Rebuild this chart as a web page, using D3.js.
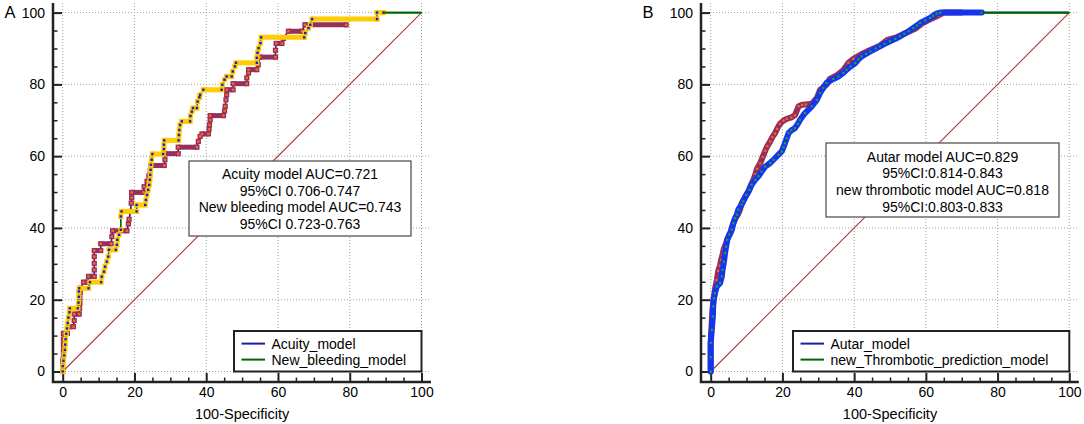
<!DOCTYPE html>
<html><head><meta charset="utf-8">
<script src="https://cdn.jsdelivr.net/npm/d3@7"></script>
<style>
body{margin:0;background:#fff;}
svg{display:block;font-family:"Liberation Sans",Arial,sans-serif;}
</style>
</head><body>
<svg id="c" width="1084" height="424"></svg>
<script>
// ---------- DATA ----------
const majorTicks = [0, 20, 40, 60, 80, 100];
const minorTicks = [5,10,15,25,30,35,45,50,55,65,70,75,85,90,95];
const xAxisTitle = "100-Specificity";
const panelLabels = ["A", "B"];

// Panel A – Acuity model (ROC points, 100-Specificity vs Sensitivity)
const acuityX = [0,0,0,0.2,0.2,0.2,0.2,0.2,1.3,1.8,3.0,3.2,3.2,4.6,4.7,4.8,4.8,4.9,5.0,5.8,7.0,7.2,8.8,8.8,8.8,8.8,8.8,10.6,10.6,13.5,13.7,13.9,17.9,18.3,18.5,18.9,19.1,19.2,19.2,22.5,22.7,23.5,24.0,24.4,24.6,28.3,28.5,28.5,32.2,32.2,37.4,37.8,38.3,38.8,40.6,40.8,40.9,41.1,41.1,44.8,45.1,45.3,45.5,45.7,45.7,47.5,47.5,51.3,51.3,51.8,51.8,54.1,54.5,55.0,59.3,59.3,59.5,61.1,61.5,62.9,66.7,67.5,79.0];
const acuityY = [0,1.5,3,4.5,6,7.5,9,10.6,10.6,12.5,12.5,14.2,16,16,17.5,19,20.5,22,23.2,24.9,24.9,26.5,26.5,28.3,30.1,32,33.7,33.7,35.6,35.6,37.6,39.2,39.2,41.1,42.4,44.6,46.9,48.4,49.9,49.9,51.5,53,54.5,56,57.4,57.4,59,60.7,60.7,62.5,62.5,64.1,65.5,66.2,66.2,67.5,68.7,70.1,71.3,71.3,72.6,73.9,75.7,77.1,78.5,78.5,80.2,80.2,81.8,83.2,84.1,84.1,85.5,87.6,87.6,89.5,91.4,91.4,92.8,94.8,94.8,96.6,96.6];

// Panel A – New bleeding model
const newBleedingX = [0,0,0.2,0.4,0.6,0.7,0.8,1.0,1.2,1.4,1.6,1.9,2.0,4.2,4.4,4.5,4.5,4.6,7.2,7.6,10.7,10.9,11.5,11.8,12.3,12.7,12.9,14.8,15.1,15.2,15.7,16.2,16.2,16.4,20.6,20.6,23.0,23.2,23.5,23.8,24.1,24.3,24.4,24.5,24.6,24.8,25.0,28.0,28.2,28.2,28.3,32.3,32.4,32.5,32.7,33.2,35.5,35.6,36.0,36.3,37.4,37.6,38.1,38.3,39.2,44.3,44.5,45.1,45.7,47.1,47.4,48.0,48.3,54.1,54.1,54.3,54.6,55.1,55.3,67.3,67.6,68.5,69.0,69.5,87.6,87.6,89.4,100];
const newBleedingY = [0,1.5,3,4.5,6,7.5,9,10.5,12,13.5,15,16.5,17.6,17.6,19.2,20.8,22.3,23.2,23.2,24.9,24.9,26.4,27.8,29.2,30.6,32.0,33.9,33.9,35.3,36.7,38.1,39.5,43.2,44.6,44.6,46.4,46.4,47.8,49.2,50.6,52.0,53.4,54.8,56.2,57.6,59.0,60.6,60.6,62.0,63.2,64.4,64.4,65.9,67.3,68.7,69.7,69.7,71.2,72.4,73.4,73.4,75.2,76.4,77.1,78.5,78.5,79.9,81.3,82.2,82.2,83.6,85.0,86.0,86.0,87.4,88.8,90.1,91.5,93.1,93.1,94.3,95.7,96.6,98.2,98.2,100,100,100];

// Panel B – Autar model
const autarX = [0,0,0,0.2,0.4,0.7,1.0,1.2,1.7,2.1,2.6,2.9,3.3,3.6,4.2,4.7,5.5,5.9,6.8,7.7,8.2,8.7,9.6,10.5,11.0,11.9,12.5,12.9,13.8,14.5,15.2,15.8,16.6,17.2,17.9,18.5,19.3,20.3,21.2,22.5,23.5,24.5,25.5,26.5,28.2,29.6,30.5,32.3,33.2,35.0,37.0,38.4,39.8,42.0,44.5,47.2,49.1,52.0,55.0,57.0,59.0,61.5,63.5,65.0,70.0];
const autarY = [0,4,8,12,16,19.5,21.5,23,25.5,28,29.5,31.1,32.5,34,35.5,37,38.5,40.2,42.5,44,45.2,47,48.6,50,51.5,53.4,55,56.5,58,59.8,61.5,62.8,64.1,65.3,66.3,67.6,69,69.9,70.4,70.8,71.4,73.9,74.3,74.4,74.6,76.2,78.5,79.9,81.5,82.4,84,86,87.1,88.4,89.6,90.8,92.3,93.2,94.6,95.5,97,98.3,99.2,100,100];

// Panel B – new thrombotic prediction model
const newThromboticX = [0,0,0,0.3,0.6,0.7,0.9,1.2,1.7,2.6,3.1,3.3,3.7,4.0,4.3,4.6,5.2,5.9,6.3,6.8,7.3,7.7,8.6,9.1,9.9,10.8,11.4,12.4,13.3,14.2,15.2,16.6,17.5,18.9,19.8,20.3,20.7,21.2,21.7,22.5,23.5,24.3,24.9,26.3,28.2,29.6,30.5,31.4,32.3,34.2,35.6,37.0,37.9,39.0,40.3,41.2,42.1,43.3,44.5,46.0,47.2,48.5,50.0,51.5,52.8,54.0,55.2,56.5,57.5,58.4,59.8,61.2,62.0,63.0,64.0,75.6,100];
const newThromboticY = [0,4,8,11.6,15.3,18.1,20.4,21.8,23.7,24.6,26.5,28.3,30.6,33,34.8,36.7,38.2,39.5,41.3,42.7,43.7,45.1,46.5,47.4,49.2,50.6,52,53.4,54.4,55.7,57.1,58.1,59,60.4,61.3,62.5,63.6,65,66.4,67.2,67.8,69,70.1,72,73.9,75.7,77.6,79,80.4,81.5,82.2,83.2,84.1,85,85.9,87,87.8,88.5,89.2,90,90.6,91.3,92,92.7,93.4,94.1,94.8,95.7,96.4,97.1,97.8,98.5,99.1,99.7,100,100,100];

const boxTextA = ["Acuity model AUC=0.721", "95%CI 0.706-0.747", "New bleeding model AUC=0.743", "95%CI 0.723-0.763"];
const boxTextB = ["Autar model AUC=0.829", "95%CI:0.814-0.843", "new thrombotic model AUC=0.818", "95%CI:0.803-0.833"];
const legendA = ["Acuity_model", "New_bleeding_model"];
const legendB = ["Autar_model", "new_Thrombotic_prediction_model"];

// ---------- DRAWING ----------
const FONT = '"Liberation Sans", Arial, sans-serif';
const svg = d3.select("#c");
const zip = (xs, ys) => xs.map((v, i) => [v, ys[i]]);

const C = {
  maroon: "#95305e", orange: "#ff6a10", yellow: "#ffcc00",
  navy: "#1c1ca6", blueDot: "#1a1ad0", green: "#006400",
  bThick: "#1434f2", greenDot: "#22a622", diag: "#b03a3a"
};

function panel(cfg) {
  const g = svg.append("g");
  const x = d3.scaleLinear().domain([0, 100]).range([cfg.left, cfg.right]);
  const y = d3.scaleLinear().domain([0, 100]).range([371.5, 12.6]);
  const top = 3, axisY = 382, axisX = cfg.axisX, frameR = cfg.right + 9.5;

  // grid
  g.append("g").selectAll("line").data(majorTicks).join("line")
    .attr("x1", d => x(d)).attr("x2", d => x(d)).attr("y1", top).attr("y2", axisY)
    .attr("stroke", "#a0a0a0").attr("stroke-width", 1).attr("stroke-dasharray", "1,2");
  g.append("g").selectAll("line").data(majorTicks).join("line")
    .attr("y1", d => y(d)).attr("y2", d => y(d)).attr("x1", axisX).attr("x2", frameR)
    .attr("stroke", "#a0a0a0").attr("stroke-width", 1).attr("stroke-dasharray", "1,2");

  // diagonal
  g.append("line").attr("x1", x(0)).attr("y1", y(0)).attr("x2", x(100)).attr("y2", y(100))
    .attr("stroke", C.diag).attr("stroke-width", 1.1);

  // axes
  const xAx = g.append("g").attr("transform", `translate(0,${axisY})`)
    .call(d3.axisBottom(x).tickValues(majorTicks).tickSize(-9).tickPadding(5.5))
    .call(s => s.select(".domain").remove());
  xAx.selectAll("text").attr("font-size", 14).attr("font-family", FONT).attr("fill", "#000");
  xAx.selectAll("line").attr("stroke", "#222").attr("stroke-width", 2);
  const xMin = g.append("g").attr("transform", `translate(0,${axisY})`)
    .call(d3.axisBottom(x).tickValues(minorTicks).tickSize(-4.5).tickFormat(""))
    .call(s => s.select(".domain").remove());
  xMin.selectAll("line").attr("stroke", "#222").attr("stroke-width", 1.5);

  const yAx = g.append("g").attr("transform", `translate(${axisX},0)`)
    .call(d3.axisLeft(y).tickValues(majorTicks).tickSize(-9).tickPadding(8))
    .call(s => s.select(".domain").remove());
  yAx.selectAll("text").attr("font-size", 14).attr("font-family", FONT).attr("fill", "#000");
  yAx.selectAll("line").attr("stroke", "#222").attr("stroke-width", 2);
  const yMin = g.append("g").attr("transform", `translate(${axisX},0)`)
    .call(d3.axisLeft(y).tickValues(minorTicks).tickSize(-4.5).tickFormat(""))
    .call(s => s.select(".domain").remove());
  yMin.selectAll("line").attr("stroke", "#222").attr("stroke-width", 1.5);

  g.append("path").attr("d", `M${axisX},${top}V${axisY}H${frameR}`)
    .attr("fill", "none").attr("stroke", "#222").attr("stroke-width", 2.5);

  g.append("text").attr("x", (cfg.left + cfg.right) / 2).attr("y", 418.5)
    .attr("text-anchor", "middle").attr("font-size", 14.5).attr("font-family", FONT)
    .text(xAxisTitle);
  g.append("text").attr("x", cfg.labelX).attr("y", 17.5).attr("font-size", 16.5)
    .attr("font-family", FONT).text(cfg.label);

  const line = d3.line().x(d => x(d[0])).y(d => y(d[1]));

  // curves
  cfg.series.forEach(s => {
    const pts = s.pts;
    const inner = pts.filter(p => !(p[0] === 100 && p[1] === 100));
    g.append("path").attr("d", line(pts)).attr("fill", "none")
      .attr("stroke", s.lineColor).attr("stroke-width", 1.6);
    if (cfg.steps) {
      const segs = [];
      for (let i = 1; i < inner.length; i++) {
        if (inner[i][1] === inner[i - 1][1]) segs.push([inner[i - 1], inner[i]]);
      }
      g.append("g").selectAll("line").data(segs).join("line")
        .attr("x1", d => x(d[0][0])).attr("x2", d => x(d[1][0]))
        .attr("y1", d => y(d[0][1])).attr("y2", d => y(d[1][1]))
        .attr("stroke", s.thick).attr("stroke-width", 5);
      g.append("g").selectAll("rect").data(inner).join("rect")
        .attr("x", d => x(d[0]) - 2.6).attr("y", d => y(d[1]) - 2.6)
        .attr("width", 5.2).attr("height", 5.2).attr("fill", s.thick);
      g.append("g").selectAll("rect").data(inner).join("rect")
        .attr("x", d => x(d[0]) - 1.2).attr("y", d => y(d[1]) - 1.2)
        .attr("width", 2.4).attr("height", 2.4).attr("fill", s.dot);
    } else {
      g.append("path").attr("d", line(inner)).attr("fill", "none")
        .attr("stroke", s.thick).attr("stroke-width", 6)
        .attr("stroke-linejoin", "round").attr("stroke-linecap", "round");
      g.append("g").selectAll("rect").data(inner).join("rect")
        .attr("x", d => x(d[0]) - 1.1).attr("y", d => y(d[1]) - 1.1)
        .attr("width", 2.2).attr("height", 2.2).attr("fill", s.dot);
    }
  });
  // final thin segment re-drawn on top
  const last = cfg.series[cfg.series.length - 1];
  g.append("path").attr("d", line(last.pts.slice(-2))).attr("fill", "none")
    .attr("stroke", last.lineColor).attr("stroke-width", 1.6);

  // AUC text box
  const b = cfg.box;
  g.append("rect").attr("x", b.x).attr("y", b.y).attr("width", b.w).attr("height", b.h)
    .attr("fill", "#fff").attr("stroke", "#555").attr("stroke-width", 1.3);
  g.append("g").selectAll("text").data(cfg.boxText).join("text")
    .attr("x", b.x + b.w / 2).attr("y", (d, i) => b.firstBase + i * 16.7)
    .attr("text-anchor", "middle").attr("font-size", 14).attr("font-family", FONT)
    .text(d => d);

  // legend
  const L = cfg.legend;
  g.append("rect").attr("x", L.x).attr("y", L.y).attr("width", x(100) - L.x).attr("height", y(0) - L.y)
    .attr("fill", "#fff").attr("stroke", "#222").attr("stroke-width", 2);
  const lc = [C.navy, C.green];
  cfg.legendText.forEach((t, i) => {
    const cy = L.y + 12.6 + i * 16;
    g.append("line").attr("x1", L.x + 7.5).attr("x2", L.x + 31).attr("y1", cy).attr("y2", cy)
      .attr("stroke", lc[i]).attr("stroke-width", 2);
    g.append("text").attr("x", L.x + 37.5).attr("y", cy + 5).attr("font-size", 14)
      .attr("font-family", FONT).text(t);
  });
}

panel({
  axisX: 53, left: 62.7, right: 421.5, label: panelLabels[0], labelX: 4.5, steps: true,
  series: [
    { pts: zip(acuityX, acuityY), thick: C.maroon, dot: C.orange, lineColor: C.navy },
    { pts: zip(newBleedingX, newBleedingY), thick: C.yellow, dot: C.blueDot, lineColor: C.green }
  ],
  box: { x: 189, y: 161, w: 222, h: 75, firstBase: 179 },
  boxText: boxTextA,
  legend: { x: 234, y: 331 },
  legendText: legendA
});

panel({
  axisX: 701, left: 710.7, right: 1069.3, label: panelLabels[1], labelX: 642.5, steps: false,
  series: [
    { pts: zip(autarX, autarY).concat([[100, 100]]), thick: C.maroon, dot: C.orange, lineColor: C.navy },
    { pts: zip(newThromboticX, newThromboticY), thick: C.bThick, dot: C.greenDot, lineColor: C.green }
  ],
  box: { x: 826, y: 143, w: 233, h: 74, firstBase: 161.7 },
  boxText: boxTextB,
  legend: { x: 793, y: 331 },
  legendText: legendB
});
</script>
</body></html>
